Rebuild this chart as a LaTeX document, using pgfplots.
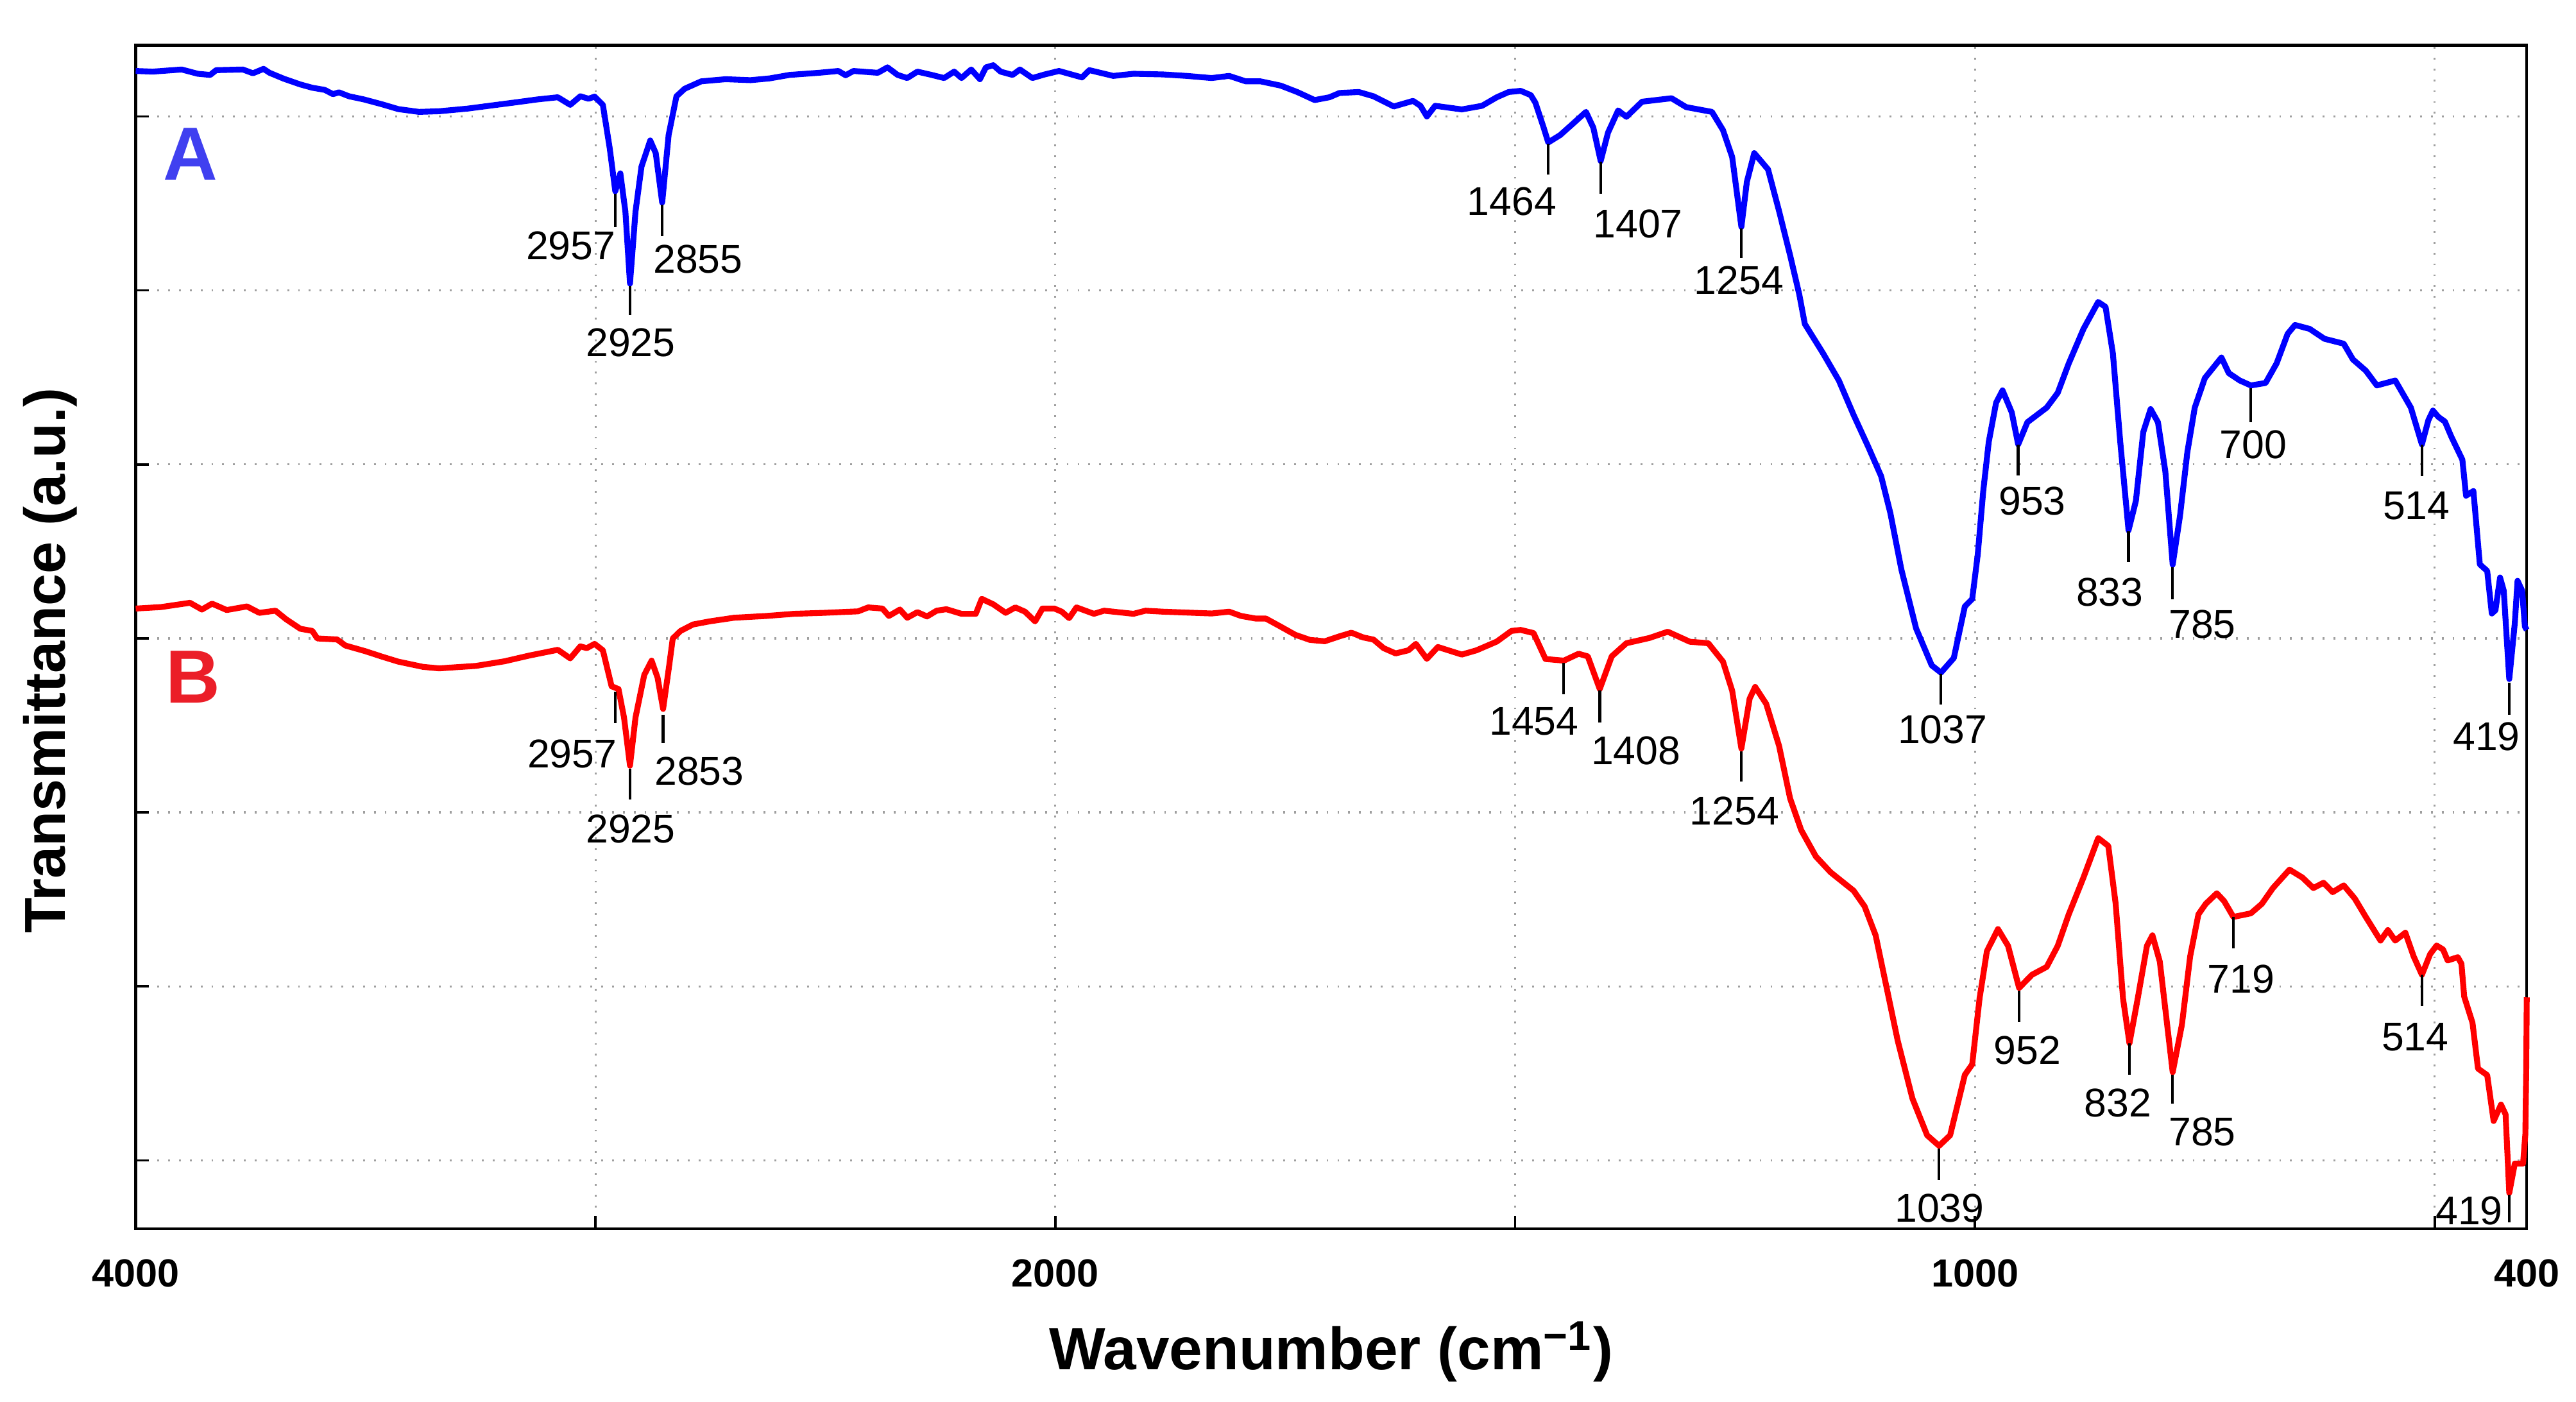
\documentclass[border=0pt]{standalone}
\usepackage{fontspec}
\setmainfont{Liberation Sans}
\usepackage{pgfplots}
\usepackage{pgfplotstable}
\pgfplotsset{compat=1.18}
\definecolor{cA}{RGB}{0,0,255}
\definecolor{cB}{RGB}{255,0,0}
\definecolor{lA}{RGB}{64,64,240}
\definecolor{lB}{RGB}{235,30,40}

\pgfplotstableread{
w T
4000 704.8
3963 704.4
3900 705.7
3865 703.1
3838 702.4
3825 705.3
3767 705.7
3745 703.4
3722 706.1
3709 703.7
3678 700.1
3642 696.6
3616 694.6
3589 693.3
3571 690.7
3558 691.8
3536 689.4
3504 687.5
3464 684.5
3429 681.6
3384 679.9
3340 680.3
3278 681.9
3215 684.2
3171 685.8
3126 687.5
3082 688.8
3055 684.2
3033 689.4
3015 687.9
3002 689.2
2984 684.2
2969 657.6
2957 631.6
2946 642.5
2935 619.2
2925 575.4
2913 619.2
2900 646.6
2881 662.5
2869 654.8
2855 624.7
2841 665.8
2824 689.4
2806 694
2770 698.5
2717 699.8
2663 699.2
2621 700.3
2578 702.4
2514 703.7
2472 704.8
2456 702.2
2439 704.8
2386 703.7
2365 707
2343 702.4
2322 700.5
2300 704.4
2269 702.4
2242 700.5
2220 704.4
2204 700.5
2183 705.7
2164 699.8
2151 707
2135 708.3
2119 704.4
2093 702.4
2077 705.7
2050 700.5
2023 702.7
1996 704.8
1971 700.9
1963 705.3
1937 701.8
1915 703.1
1883 702.7
1857 701.8
1830 700.5
1811 701.8
1793 698.5
1777 698.5
1755 695.9
1737 692
1718 687.1
1702 688.8
1691 691.4
1670 692
1654 689.4
1632 683.2
1611 686.6
1603 683.6
1596 677.1
1587 683.6
1558 681.4
1536 683.6
1520 688.8
1507 692
1494 692.7
1483 690.1
1478 685.5
1469 670.3
1464 661.3
1451 665.8
1439 671.8
1423 679.9
1415 670.3
1407 650
1399 667.3
1388 680.8
1379 676.9
1362 686.1
1330 688.2
1314 682.8
1286 679.9
1274 668.8
1264 652.4
1254 609.9
1248 637.4
1240 654.8
1225 644.9
1213 619.5
1201 592.6
1191 568.7
1185 550.8
1165 532.8
1148 516.4
1132 495.5
1116 476
1102 458.1
1092 435.7
1080 401.3
1064 365.5
1047 343
1037 338.6
1023 347.5
1011 378.9
1003 383.4
997 410.3
991 449.1
985 479
977 502.9
970 510.4
960 497
953 477.5
943 491
922 499.9
910 508.9
898 526.8
882 547.8
866 564.2
858 561.2
850 532.8
842 479
833 425.2
825 443.2
817 485
809 499
801 491
793 461.1
785 404.3
777 434.2
769 473
761 499.9
750 517.9
732 530.4
724 520.9
712 516.4
700 513.4
684 514.9
672 526.8
660 544.8
652 550.2
636 547.8
620 541.8
599 538.8
589 529.2
575 522.4
563 513.4
543 516.4
526 499.9
514 477.5
507 492.2
502 498.1
496 494.2
489 491.4
482 482.2
470 468.2
466 446.3
458 449.1
451 404.5
443 400.5
438 374.6
434 376.6
429 396.5
425 388.5
419 334.7
413 368.6
410 394.5
405 388.5
402 366.6
400 364.6
}\dataA

\pgfplotstableread{
w T
4000 377.6
3945 378.5
3882 381.1
3856 377
3834 380.6
3802 376.7
3758 378.9
3731 375
3696 376.3
3673 371.1
3642 365.3
3616 364
3605 359.4
3562 358.8
3544 355.1
3500 351.6
3464 348.3
3429 345.3
3375 342.1
3340 341.2
3260 342.7
3198 345.5
3144 349
3082 352.5
3055 347.3
3033 354.6
3019 353.5
3002 356.1
2984 352.2
2965 330.3
2950 328.6
2938 311.3
2925 282
2913 311.3
2894 337.2
2878 345.9
2865 335.5
2853 316.5
2840 342.4
2832 359.4
2815 364
2788 367.9
2752 369.8
2699 372
2628 373.1
2568 374.4
2503 375
2429 375.9
2407 378.3
2376 377.6
2362 373.1
2338 377
2322 372
2300 375.4
2279 372.8
2258 376.3
2237 377.2
2204 374.4
2173 374.4
2160 383.5
2135 380.2
2108 375
2087 378.3
2066 375.7
2044 369.8
2028 377.6
2002 377.6
1993 375.7
1985 371.8
1977 378.3
1958 374.4
1947 376.3
1915 374.4
1902 376.3
1883 375.7
1830 374.6
1811 375.7
1798 373.1
1782 371.5
1771 371.5
1755 366.6
1739 361.6
1723 358.5
1707 357.7
1691 360.7
1678 362.9
1665 360
1654 358.7
1643 353.5
1630 350.3
1616 352.2
1608 356.1
1596 347
1584 354.2
1558 349.6
1542 352.2
1520 357.5
1504 364
1494 364.6
1480 362.7
1467 346.9
1447 345.9
1431 350.1
1421 348.5
1408 328.6
1395 348.5
1379 356.5
1354 359.7
1334 363.5
1310 357.4
1290 356.5
1274 345.3
1264 327.6
1254 292.4
1245 322.8
1239 329.9
1227 319.6
1213 294
1201 262
1189 242.8
1173 226.7
1157 217.1
1132 205.9
1120 196.3
1108 178.7
1096 146.7
1084 114.6
1068 79.4
1052 57
1039 50.6
1027 57
1011 93.8
1003 100.2
995 140.3
987 169.1
975 182.5
964 172.3
952 146.7
938 154.7
922 159.5
910 172.3
898 191.5
882 213.9
866 237.9
855 233.1
847 197.9
839 140.3
832 113
823 140.3
813 172.3
807 178.7
799 162.7
791 124.2
785 95.4
775 124.2
766 165.9
757 191.5
749 197.9
737 204.3
729 199.5
719 189.9
700 192.1
688 197.9
676 207.5
658 218.7
644 213.9
632 207.5
621 210.7
611 205
599 209.1
587 201.1
575 189.9
559 175.5
551 181.9
543 175.5
532 180.3
523 165.9
514 154.7
505 167.3
498 172.5
491 170.1
486 163.4
475 165.4
471 161.4
468 141.4
459 125.5
453 97.6
443 93.6
436 65.7
428 75.7
423 69.7
419 21.9
413 39.8
404 39.8
401.5 57.7
400.5 100
400 141
}\dataB

\newcommand{\pk}[6]{%
  \draw[line width=0.6pt] (axis cs:#1,#2) -- (axis cs:#1,#3);
  \node[anchor=north, inner sep=0pt, font=\fontsize{8.9}{10}\selectfont] at (axis cs:#4,#5) {#6};
}

\begin{document}
\begin{tikzpicture}
\useasboundingbox (-1.0573,-1.344) rectangle (19.013,9.574);
\begin{axis}[
  scale only axis,
  width=18.629cm, height=9.222cm,
  xmin=0, xmax=2600, ymin=0, ymax=720.5,
  clip=false,
  xtick={0,500,1000,1500,2000,2500,2600},
  xticklabels={\textbf{4000},,\textbf{2000},,\textbf{1000},,\textbf{400}},
  ytick={41.8,147.7,253.6,359.4,465.3,571.2,677.1},
  yticklabels={},
  tick align=inside, tick pos=left,
  major tick length=2.9pt,
  tick style={black, line width=0.5pt},
  grid=major,
  major grid style={dotted, gray!75, line width=0.45pt},
  axis line style={line width=0.6pt},
  xticklabel style={font=\fontsize{8.7}{10}\selectfont, inner sep=0pt, yshift=-6.6pt},
  xlabel={\textbf{Wavenumber (cm\textsuperscript{−1})}},
  xlabel style={font=\fontsize{13.2}{15}\selectfont, at={(axis description cs:0.5,0)}, anchor=base, inner sep=0pt, yshift=-31.2pt},
  ylabel={\textbf{Transmittance (a.u.)}},
  ylabel style={font=\fontsize{12.8}{15}\selectfont, at={(axis description cs:-0.024,0.48)}, anchor=south, inner sep=0pt},
]
\addplot[cA, line width=1.3pt, line join=round] table[x expr={ifthenelse(\thisrow{w}>=2000,(4000-\thisrow{w})/2,3000-\thisrow{w})}, y=T] {\dataA};
\addplot[cB, line width=1.3pt, line join=round] table[x expr={ifthenelse(\thisrow{w}>=2000,(4000-\thisrow{w})/2,3000-\thisrow{w})}, y=T] {\dataB};

\node[anchor=base west, inner sep=0pt, text=lA, font=\fontsize{16.7}{18}\selectfont\bfseries] at (axis cs:28.8,638.4) {A};
\node[anchor=base west, inner sep=0pt, text=lB, font=\fontsize{16.7}{18}\selectfont\bfseries] at (axis cs:31.8,320) {B};

% peaks A
\pk{521.5}{630.2}{609.6}{473.2}{607.7}{2957}
\pk{537.5}{574}{556.2}{538.2}{548.5}{2925}
\pk{572.5}{623.3}{604.2}{611.5}{599.5}{2855}
\pk{1536}{660.7}{641.9}{1496.4}{634.4}{1464}
\pk{1593}{649.4}{629.9}{1633.6}{621}{1407}
\pk{1746}{609}{591.1}{1743.5}{586.6}{1254}
\pk{1963}{338}{319.1}{1964.8}{313.1}{1037}
\pk{2047}{477.5}{458.7}{2062.3}{452.1}{953}
\pk{2167}{424.6}{405.8}{2146.5}{396.8}{833}
\pk{2215}{402.8}{383.4}{2247.2}{377.4}{785}
\pk{2300}{511.9}{491}{2302.5}{486.5}{700}
\pk{2486}{477.5}{458.1}{2480}{449.1}{514}
\pk{2581}{332.6}{313.1}{2556.3}{308.7}{419}
% peaks B
\pk{521.5}{326.9}{307.9}{474.6}{298.2}{2957}
\pk{537.5}{280.3}{261.3}{538.2}{252.6}{2925}
\pk{573.5}{313}{295.8}{612.9}{287.9}{2853}
\pk{1552.9}{344.6}{325.4}{1520.5}{318}{1454}
\pk{1592}{327.6}{308.4}{1631.3}{300.4}{1408}
\pk{1746}{290.8}{272.2}{1738.6}{263.6}{1254}
\pk{1961}{49}{29.7}{1961.4}{21.7}{1039}
\pk{2048}{145.1}{125.8}{2056.8}{117.8}{952}
\pk{2168}{113}{93.8}{2155.2}{85.8}{832}
\pk{2215}{93.8}{76.2}{2247.2}{68.2}{785}
\pk{2281}{189.9}{170.7}{2289.4}{161.1}{719}
\pk{2486}{154.7}{135.5}{2478.7}{125.8}{514}
\pk{2581}{21}{4}{2537.4}{20.1}{419}
\end{axis}
\end{tikzpicture}
\end{document}
